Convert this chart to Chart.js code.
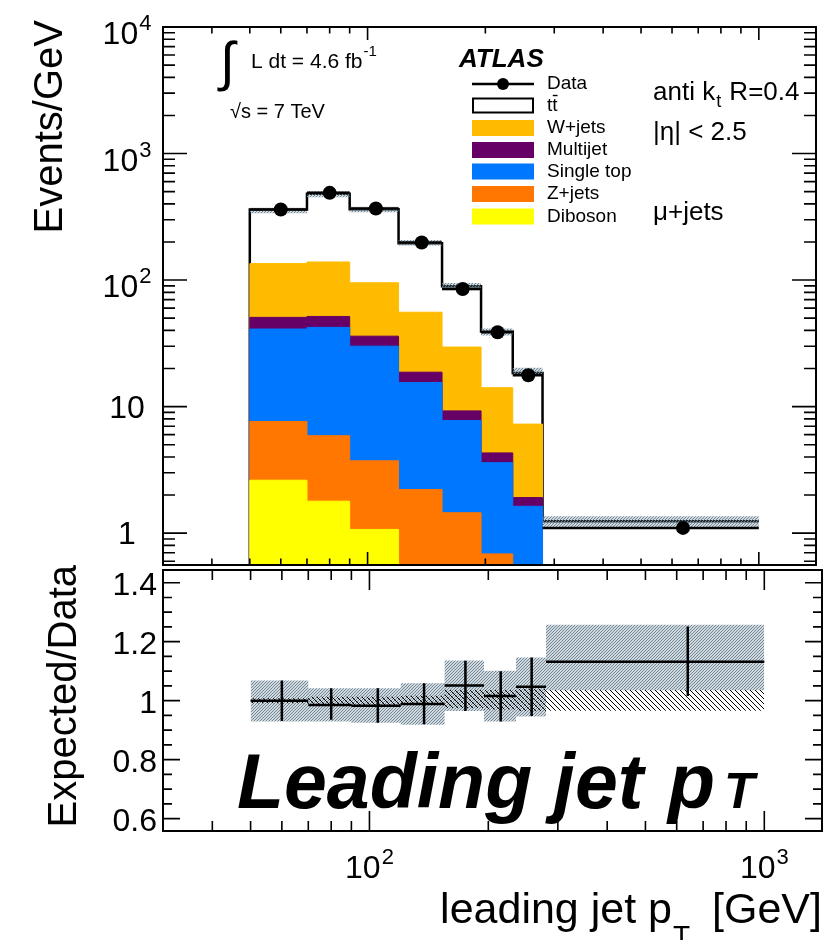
<!DOCTYPE html>
<html>
<head>
<meta charset="utf-8">
<script src="https://cdn.jsdelivr.net/npm/chart.js@4.4.0/dist/chart.umd.min.js"></script>
<style>
  html, body { margin: 0; padding: 0; background: #fff; }
  #wrap { position: relative; width: 823px; height: 940px; overflow: hidden; background: #fff; }
  #wrap canvas { position: absolute; left: 0; }
  #top { top: 0; }
  #bot { top: 540px; }
</style>
</head>
<body>
<div id="wrap">
  <canvas id="top" width="823" height="572"></canvas>
  <canvas id="bot" width="823" height="400"></canvas>
</div>
<script>
// leading jet pT, mu+jets channel: stacked prediction vs data, ratio below
const binEdges   = [50, 70, 90, 120, 155, 195, 235, 280, 1000];
const dataVals   = [361, 489, 368, 198, 85, 38.7, 17.7, 1.10];
const ttbarVals  = [226, 343, 267, 140, 59.8, 25.2, 11.2, 0.91];
const wjetsVals  = [84.3, 87.4, 59.2, 37.0, 20.3, 9.8, 5.36, 0.20];
const multijetVals = [9.7, 9.3, 6.0, 3.2, 1.48, 0.70, 0.28, 0.01];
const singleTopVals = [33.4, 36.4, 26.3, 13.3, 6.32, 2.92, 1.27, 0.08];
const zjetsVals  = [5.01, 4.10, 2.66, 1.81, 1.23, 0.565, 0.30, 0.02];
const dibosonVals = [2.62, 1.79, 1.07, 0.40, 0.22, 0.12, 0.06, 0.02];
// hatched uncertainty on the total prediction
const bandHi = [373, 503, 380, 207, 95, 41.5, 20.3, 1.36];
const bandLo = [337, 452, 343, 188, 83, 36.4, 17.7, 1.12];

// ratio panel
const ratioVals  = [1.000, 0.985, 0.983, 0.989, 1.051, 1.016, 1.047, 1.132];
const ratioErrHi = [1.068, 1.042, 1.042, 1.059, 1.135, 1.100, 1.146, 1.251];
const ratioErrLo = [0.931, 0.935, 0.925, 0.920, 0.965, 0.929, 0.948, 1.016];
const systHi = [1.068, 1.042, 1.042, 1.059, 1.136, 1.101, 1.146, 1.257];
const systLo = [0.929, 0.929, 0.925, 0.918, 0.965, 0.929, 0.946, 1.035];
const statHi = [1.008, 1.013, 1.013, 1.017, 1.036, 1.036, 1.040, 1.036];
const statLo = [0.991, 0.983, 0.983, 0.985, 0.975, 0.970, 0.965, 0.966];

const X_MIN = 30, X_MAX = 1400;
const Y_MIN = 0.56, Y_MAX = 1e4;
const R_MIN = 0.558, R_MAX = 1.443;

const xMajorTicks = [100, 1000];
const xMinorTicks = [30, 40, 50, 60, 70, 80, 90, 200, 300, 400, 500, 600, 700, 800, 900];
const yMajorTicks = [1, 10, 100, 1000, 10000];
const yMinorTicks = [0.1, 1, 10, 100, 1000].flatMap(d => [2,3,4,5,6,7,8,9].map(m => m * d)).filter(v => v > Y_MIN && v < Y_MAX);
const yTickLabels = [['1', ''], ['10', ''], ['10', '2'], ['10', '3'], ['10', '4']];
const rMajorTicks = [0.6, 0.8, 1.0, 1.2, 1.4];
const rTickLabels = ['0.6', '0.8', '1', '1.2', '1.4'];
const rMinorTicks = [0.65, 0.7, 0.75, 0.85, 0.9, 0.95, 1.05, 1.1, 1.15, 1.25, 1.3, 1.35];

const legendNames = ['Data', 'tt', 'W+jets', 'Multijet', 'Single top', 'Z+jets', 'Diboson'];
const colors = { ttbar: '#ffffff', wjets: '#ffbb00', multijet: '#660066', singleTop: '#0077ff', zjets: '#ff7700', diboson: '#ffff00' };

const BOT_TOP = 540;
const FONT = '"Liberation Sans", Arial, Helvetica, sans-serif';
const font = (size, style) => (style ? style + ' ' : '') + size + 'px ' + FONT;

const binCenters = binEdges.slice(0, -1).map((e, i) => (e + binEdges[i + 1]) / 2);

// step outline: vertical at the left edge, then one horizontal run per bin
const histPts = (vals, start) => [{ x: binEdges[0], y: start }].concat(vals.map((v, i) => ({ x: binEdges[i + 1], y: v })));
// separate horizontal pieces spanning each bin
const binSegs = vals => vals.flatMap((v, i) => [{ x: binEdges[i], y: v }, { x: binEdges[i + 1], y: v }, { x: binEdges[i + 1], y: null }]);
// vertical error bars at bin centres
const errSegs = (lo, hi) => binCenters.flatMap((c, i) => [{ x: c, y: lo[i] }, { x: c, y: hi[i] }, { x: c, y: null }]);

function hatch(ctx, color, dir, step, lw) {
  const c = document.createElement('canvas');
  c.width = c.height = step;
  const g = c.getContext('2d');
  g.strokeStyle = color; g.lineWidth = lw;
  g.beginPath();
  if (dir > 0) {
    g.moveTo(0, step); g.lineTo(step, 0);
    g.moveTo(-1, 1); g.lineTo(1, -1);
    g.moveTo(step - 1, step + 1); g.lineTo(step + 1, step - 1);
  } else {
    g.moveTo(0, 0); g.lineTo(step, step);
    g.moveTo(-1, step - 1); g.lineTo(1, step + 1);
    g.moveTo(step - 1, -1); g.lineTo(step + 1, 1);
  }
  g.stroke();
  return ctx.createPattern(c, 'repeat');
}

const topCanvas = document.getElementById('top');
const botCanvas = document.getElementById('bot');
const greyTop = hatch(topCanvas.getContext('2d'), '#6d8595', 1, 3, 1.2);
const greyBot = hatch(botCanvas.getContext('2d'), '#6d8595', 1, 3, 1.2);
const blackBot = hatch(botCanvas.getContext('2d'), '#000', -1, 5, 1);

// cumulative stack, bottom component first
const stackParts = [dibosonVals, zjetsVals, singleTopVals, multijetVals, wjetsVals, ttbarVals];
const stackColors = [colors.diboson, colors.zjets, colors.singleTop, colors.multijet, colors.wjets, colors.ttbar];
let running = dataVals.map(() => 0);
const cumulative = stackParts.map(arr => (running = running.map((v, i) => v + arr[i])));

// lower index is painted later, so the smallest sum ends up on top
const stackSets = cumulative.map((vals, k) => {
  const isTotal = k === cumulative.length - 1;
  return {
    data: histPts(vals, Y_MIN),
    stepped: 'after',
    fill: 'start',
    backgroundColor: stackColors[k],
    borderColor: isTotal ? '#000' : stackColors[k],
    borderWidth: isTotal ? 2.5 : 1
  };
});

const upperSets = [
  { data: binCenters.map((c, i) => ({ x: c, y: dataVals[i] })), showLine: false,
    pointRadius: 7, pointBackgroundColor: '#000', pointBorderColor: '#000', pointBorderWidth: 0 },
  { data: binSegs(dataVals), borderColor: '#000', borderWidth: 2.5, spanGaps: false },
  { data: histPts(bandHi, bandHi[0]), stepped: 'after', fill: '+1', backgroundColor: greyTop, borderColor: 'transparent', borderWidth: 0 },
  { data: histPts(bandLo, bandLo[0]), stepped: 'after', fill: false, borderColor: 'transparent', borderWidth: 0 }
].concat(stackSets);

const lowerSets = [
  { data: errSegs(ratioErrLo, ratioErrHi), borderColor: '#000', borderWidth: 2.5, spanGaps: false },
  { data: binSegs(ratioVals), borderColor: '#000', borderWidth: 2.5, spanGaps: false },
  { data: histPts(statHi, statHi[0]), stepped: 'after', fill: '+1', backgroundColor: blackBot, borderColor: 'transparent', borderWidth: 0 },
  { data: histPts(statLo, statLo[0]), stepped: 'after', fill: false, borderColor: 'transparent', borderWidth: 0 },
  { data: histPts(systHi, systHi[0]), stepped: 'after', fill: '+1', backgroundColor: greyBot, borderColor: 'transparent', borderWidth: 0 },
  { data: histPts(systLo, systLo[0]), stepped: 'after', fill: false, borderColor: 'transparent', borderWidth: 0 }
];

function seg(ctx, x0, y0, x1, y1) { ctx.moveTo(x0, y0); ctx.lineTo(x1, y1); }

// inward ticks on all four sides plus the frame
function drawFrame(chart, t) {
  const { ctx, chartArea: a, scales: { x, y } } = chart;
  ctx.save();
  ctx.strokeStyle = '#000';
  ctx.lineWidth = 1.6;
  ctx.beginPath();
  xMinorTicks.forEach(v => { const p = x.getPixelForValue(v); seg(ctx, p, a.top, p, a.top + t.xMin); seg(ctx, p, a.bottom, p, a.bottom - t.xMin); });
  xMajorTicks.forEach(v => { const p = x.getPixelForValue(v); seg(ctx, p, a.top, p, a.top + t.xMaj); seg(ctx, p, a.bottom, p, a.bottom - t.xMaj); });
  t.yMinor.forEach(v => { const p = y.getPixelForValue(v); seg(ctx, a.left, p, a.left + t.yMin, p); seg(ctx, a.right, p, a.right - t.yMin, p); });
  t.yMajor.forEach(v => { const p = y.getPixelForValue(v); seg(ctx, a.left, p, a.left + t.yMaj, p); seg(ctx, a.right, p, a.right - t.yMaj, p); });
  ctx.stroke();
  ctx.lineWidth = 2;
  ctx.strokeRect(a.left, a.top, a.right - a.left, a.bottom - a.top);
  ctx.restore();
}

// "10" with an optional raised exponent
function supText(ctx, base, exp, x, y, size, supSize, align) {
  ctx.font = font(size);
  const wb = ctx.measureText(base).width;
  let we = 0;
  if (exp) { ctx.font = font(supSize); we = ctx.measureText(exp).width + 1; }
  const x0 = align === 'center' ? x - (wb + we) / 2 : align === 'right' ? x - wb - we : x;
  ctx.textAlign = 'left';
  ctx.textBaseline = 'alphabetic';
  ctx.font = font(size);
  ctx.fillText(base, x0, y);
  if (exp) { ctx.font = font(supSize); ctx.fillText(exp, x0 + wb + 1, y - 14); }
}

const upperDecor = {
  id: 'upperDecor',
  afterDraw(chart) {
    drawFrame(chart, { xMin: 6.5, xMaj: 13, yMin: 12, yMaj: 24, yMinor: yMinorTicks, yMajor: yMajorTicks });
    const { ctx, scales: { y } } = chart;
    ctx.save();
    ctx.fillStyle = '#000';
    yMajorTicks.forEach((v, i) => {
      const p = y.getPixelForValue(v);
      const [b, e] = yTickLabels[i];
      supText(ctx, b, e, 127, p + (e ? 17 : 11), 32, 22, 'center');
    });

    // y title
    ctx.save();
    ctx.translate(62, 20);
    ctx.rotate(-Math.PI / 2);
    ctx.font = font(40);
    ctx.textAlign = 'right';
    ctx.textBaseline = 'alphabetic';
    ctx.fillText('Events/GeV', 0, 0);
    ctx.restore();

    // luminosity and energy
    ctx.textAlign = 'left';
    ctx.textBaseline = 'alphabetic';
    ctx.font = font(54);
    ctx.fillText('∫', 220, 80);
    ctx.font = font(21);
    ctx.fillText('L dt = 4.6 fb', 251, 68);
    const w = ctx.measureText('L dt = 4.6 fb').width;
    ctx.font = font(15);
    ctx.fillText('-1', 251 + w + 1, 56);
    ctx.font = font(20);
    ctx.fillText('√s = 7 TeV', 230, 118);

    // experiment label
    ctx.font = font(26, 'italic bold');
    ctx.fillText('ATLAS', 459, 67);

    // legend
    const rowY = [84, 105.5, 128, 150, 171.5, 194, 216.5];
    const boxFill = [null, colors.ttbar, colors.wjets, colors.multijet, colors.singleTop, colors.zjets, colors.diboson];
    ctx.lineWidth = 2.5;
    ctx.strokeStyle = '#000';
    ctx.beginPath(); seg(ctx, 472, rowY[0], 534, rowY[0]); ctx.stroke();
    ctx.beginPath(); ctx.arc(503, rowY[0], 6, 0, Math.PI * 2); ctx.fill();
    for (let i = 1; i < legendNames.length; i++) {
      ctx.fillStyle = boxFill[i];
      ctx.fillRect(472, rowY[i] - 8, 62, 16);
      if (i === 1) { ctx.lineWidth = 2; ctx.strokeRect(473, rowY[i] - 7, 60, 14); }
    }
    ctx.fillStyle = '#000';
    ctx.font = font(19);
    ctx.textBaseline = 'middle';
    legendNames.forEach((n, i) => ctx.fillText(n, 547, rowY[i]));
    // bar over the second t
    const tw = ctx.measureText('t').width;
    ctx.lineWidth = 1.4;
    ctx.beginPath(); seg(ctx, 547 + tw + 0.5, rowY[1] - 10, 547 + 2 * tw, rowY[1] - 10); ctx.stroke();

    // jet selection text
    ctx.textBaseline = 'alphabetic';
    ctx.font = font(26);
    ctx.fillText('anti k', 653, 100);
    const wa = ctx.measureText('anti k').width;
    ctx.font = font(18);
    ctx.fillText('t', 653 + wa + 1, 107);
    const wt = ctx.measureText('t').width;
    ctx.font = font(26);
    ctx.fillText(' R=0.4', 653 + wa + wt + 2, 100);
    ctx.fillText('|η| < 2.5', 653, 140);
    ctx.fillText('μ+jets', 653, 220);
    ctx.restore();
  }
};

const lowerDecor = {
  id: 'lowerDecor',
  afterDraw(chart) {
    drawFrame(chart, { xMin: 10, xMaj: 20, yMin: 9, yMaj: 17, yMinor: rMinorTicks, yMajor: rMajorTicks });
    const { ctx, scales: { x, y } } = chart;
    ctx.save();
    ctx.fillStyle = '#000';
    ctx.textAlign = 'right';
    ctx.textBaseline = 'alphabetic';
    ctx.font = font(32);
    rMajorTicks.forEach((v, i) => ctx.fillText(rTickLabels[i], 157, y.getPixelForValue(v) + 12));
    xMajorTicks.forEach((v, i) => supText(ctx, '10', String(i + 2), x.getPixelForValue(v), 878 - BOT_TOP, 32, 22, 'center'));

    ctx.translate(0, -BOT_TOP);
    // y title
    ctx.save();
    ctx.translate(76, 565);
    ctx.rotate(-Math.PI / 2);
    ctx.font = font(40);
    ctx.textAlign = 'right';
    ctx.fillText('Expected/Data', 0, 0);
    ctx.restore();

    // x title
    ctx.font = font(43);
    ctx.textAlign = 'right';
    ctx.fillText('[GeV]', 822, 923);
    ctx.fillText('leading jet p', 672, 923);
    ctx.textAlign = 'left';
    ctx.font = font(28);
    ctx.fillText('T', 673, 945);

    // variable name
    ctx.font = font(77, 'italic bold');
    ctx.fillText('Leading jet', 237, 808);
    ctx.fillText('p', 668, 808);
    ctx.font = font(50, 'italic bold');
    ctx.fillText('T', 724, 808);
    ctx.restore();
  }
};

const baseOptions = (pad, yMin, yMax, yType) => ({
  responsive: false,
  animation: false,
  devicePixelRatio: 1,
  events: [],
  layout: { padding: pad },
  elements: { point: { radius: 0 }, line: { tension: 0 } },
  plugins: { legend: { display: false }, tooltip: { enabled: false } },
  scales: {
    x: { type: 'logarithmic', min: X_MIN, max: X_MAX, display: false },
    y: { type: yType, min: yMin, max: yMax, display: false }
  }
});

new Chart(topCanvas, {
  type: 'line',
  data: { datasets: upperSets },
  options: baseOptions({ left: 163, right: 1, top: 27, bottom: 2 }, Y_MIN, Y_MAX, 'logarithmic'),
  plugins: [upperDecor]
});

new Chart(botCanvas, {
  type: 'line',
  data: { datasets: lowerSets },
  options: baseOptions({ left: 163, right: 1, top: 30, bottom: 109 }, R_MIN, R_MAX, 'linear'),
  plugins: [lowerDecor]
});
</script>
</body>
</html>
